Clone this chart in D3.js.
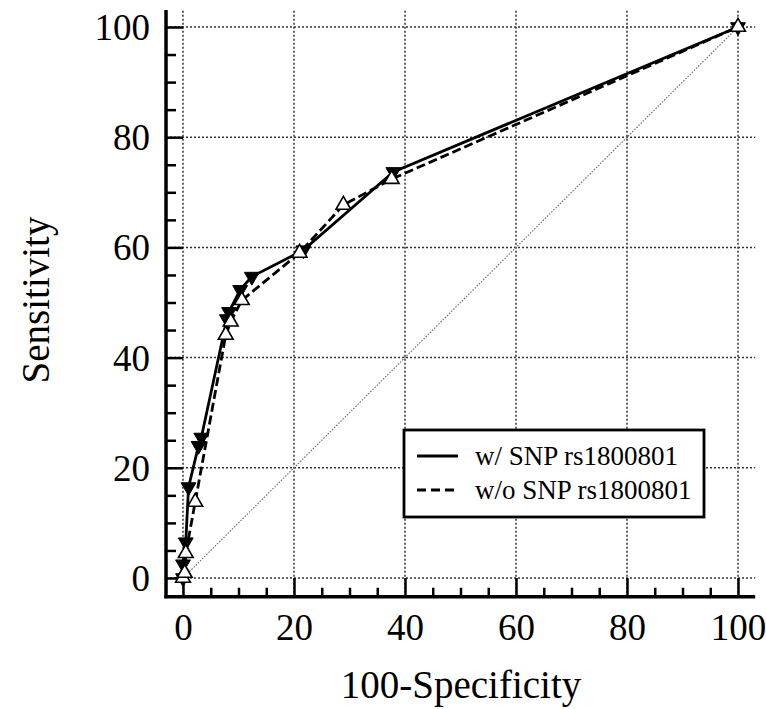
<!DOCTYPE html>
<html><head><meta charset="utf-8">
<script src="https://cdn.jsdelivr.net/npm/d3@7"></script>
<style>body{margin:0;background:#fff}svg{display:block}</style>
</head><body><svg id="c" width="766" height="709"></svg>
<script>
const majorTicks = [0, 20, 40, 60, 80, 100];
const minorTicks = [5, 10, 15, 25, 30, 35, 45, 50, 55, 65, 70, 75, 85, 90, 95];
const seriesNames = ["w/ SNP rs1800801", "w/o SNP rs1800801"];
const withX = [0, 0, 0.5, 1, 2.8, 3.3, 7.9, 8.3, 10.3, 12.4, 21.7, 37.9, 100];
const withY = [0, 2.5, 6.5, 16.5, 24, 25.5, 47, 48.3, 52.3, 54.7, 59.5, 73.7, 100];
const woX = [0, 0.3, 0.5, 2.2, 7.7, 8.6, 10.6, 21, 28.9, 37.6, 100];
const woY = [0, 0.9, 4.5, 13.8, 44.1, 46.5, 50.4, 59, 67.7, 72.4, 100];

const svg = d3.select("#c");
const x = d3.scaleLinear().domain([0, 100]).range([183, 738]);
const y = d3.scaleLinear().domain([0, 100]).range([578, 27]);
const xMin = -3.06, xMax = 103.1, yMin = -3.4, yMax = 103.1;
const font = "'Liberation Serif','Times New Roman',serif";

// gridlines
const grid = svg.append("g").attr("stroke", "#333").attr("stroke-width", 1.5).attr("stroke-dasharray", "2,2");
majorTicks.forEach(v => {
  grid.append("line").attr("x1", x(v)).attr("x2", x(v)).attr("y1", y(yMin)).attr("y2", y(yMax));
  grid.append("line").attr("x1", x(xMin)).attr("x2", x(xMax)).attr("y1", y(v)).attr("y2", y(v));
});
// diagonal
svg.append("line").attr("x1", x(0)).attr("y1", y(0)).attr("x2", x(100)).attr("y2", y(100))
  .attr("stroke", "#666").attr("stroke-width", 1.1).attr("stroke-dasharray", "1.5,1.5");

// axes
const axX = svg.append("g").attr("transform", `translate(0,${y(yMin)})`)
  .call(d3.axisBottom(x).tickValues(majorTicks).tickSize(-(y(yMin) - y(0))).tickPadding(0));
const axXm = svg.append("g").attr("transform", `translate(0,${y(yMin)})`)
  .call(d3.axisBottom(x).tickValues(minorTicks).tickSize(-9).tickFormat(""));
const axY = svg.append("g").attr("transform", `translate(${x(xMin)},0)`)
  .call(d3.axisLeft(y).tickValues(majorTicks).tickSize(-(x(0) - x(xMin))).tickPadding(16));
const axYm = svg.append("g").attr("transform", `translate(${x(xMin)},0)`)
  .call(d3.axisLeft(y).tickValues(minorTicks).tickSize(-10).tickFormat(""));
[axX, axXm, axY, axYm].forEach(a => {
  a.select(".domain").remove();
  a.selectAll(".tick line").attr("stroke", "#000").attr("stroke-width", 2.5);
  a.selectAll("text").attr("font-family", font).attr("font-size", 37).attr("fill", "#000");
});
axX.selectAll("text").attr("y", 640 - y(yMin)).attr("dy", null);
axY.selectAll("text").attr("dy", "0.34em");
// axis lines
svg.append("line").attr("x1", x(xMin)).attr("x2", x(xMin)).attr("y1", y(yMax)).attr("y2", y(yMin) + 1.5)
  .attr("stroke", "#000").attr("stroke-width", 3.5);
svg.append("line").attr("x1", x(xMin) - 1.5).attr("x2", x(xMax)).attr("y1", y(yMin)).attr("y2", y(yMin))
  .attr("stroke", "#000").attr("stroke-width", 3.5);

// lines
const line = d3.line().x(d => x(d[0])).y(d => y(d[1]));
const withData = withX.map((v, i) => [v, withY[i]]);
const woData = woX.map((v, i) => [v, woY[i]]);
svg.append("path").datum(woData).attr("d", line).attr("fill", "none").attr("stroke", "#000")
  .attr("stroke-width", 2.8).attr("stroke-dasharray", "9,4");
svg.append("path").datum(withData).attr("d", line).attr("fill", "none").attr("stroke", "#000")
  .attr("stroke-width", 2.8);

const tri = d3.symbol().type(d3.symbolTriangle).size(95);
svg.append("g").selectAll("path").data(withData).join("path").attr("d", tri)
  .attr("transform", d => `translate(${x(d[0])},${y(d[1])}) rotate(180)`)
  .attr("fill", "#000").attr("stroke", "#000").attr("stroke-width", 1);
svg.append("g").selectAll("path").data(woData).join("path").attr("d", tri)
  .attr("transform", d => `translate(${x(d[0])},${y(d[1])})`)
  .attr("fill", "#fff").attr("stroke", "#000").attr("stroke-width", 1.6);

// legend
const lg = svg.append("g");
lg.append("rect").attr("x", 404).attr("y", 430).attr("width", 300).attr("height", 87)
  .attr("fill", "#fff").attr("stroke", "#000").attr("stroke-width", 2.8);
seriesNames.forEach((n, i) => {
  const yy = 456 + i * 34;
  lg.append("line").attr("x1", 417).attr("x2", 458).attr("y1", yy).attr("y2", yy)
    .attr("stroke", "#000").attr("stroke-width", 2.8).attr("stroke-dasharray", i ? "9,5" : null);
  lg.append("text").attr("x", 475).attr("y", yy).attr("dy", "0.33em").text(n)
    .attr("font-family", font).attr("font-size", 27);
});

// titles
svg.append("text").attr("x", 461).attr("y", 698).attr("text-anchor", "middle")
  .attr("font-family", font).attr("font-size", 39).text("100-Specificity");
svg.append("text").attr("transform", "translate(36,300) rotate(-90)").attr("text-anchor", "middle").attr("dy", "0.33em")
  .attr("font-family", font).attr("font-size", 39).text("Sensitivity");
</script></body></html>
